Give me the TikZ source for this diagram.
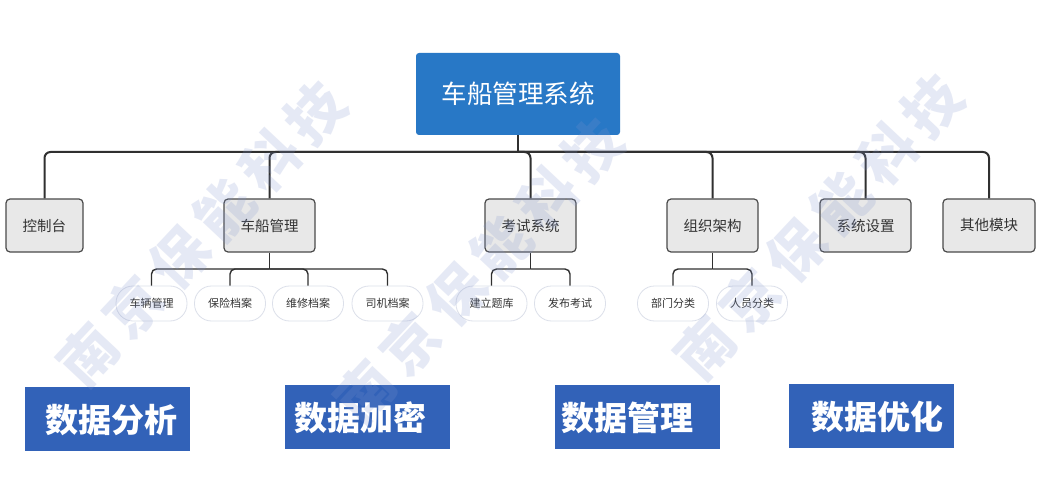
\documentclass[tikz,border=0pt]{standalone}
\usepackage{fontspec}
\newfontfamily\cjk{Noto Sans CJK SC}
\definecolor{rootblue}{HTML}{2878C6}
\definecolor{boxfill}{HTML}{E8E8E8}
\definecolor{boxedge}{HTML}{4A4A4A}
\definecolor{pilledge}{HTML}{DCE0EA}
\definecolor{txtgray}{HTML}{333333}
\definecolor{lineclr}{HTML}{303030}
\definecolor{botblue}{HTML}{3262B8}
\definecolor{wmclr}{HTML}{8094CE}
\begin{document}
\begin{tikzpicture}[x=1pt,y=-1pt,
  rootbox/.style={fill=rootblue, rounded corners=3pt, minimum width=204pt, minimum height=82pt, inner sep=0pt, text=white, font=\cjk\fontsize{25.5}{26}\selectfont},
  lvlbox/.style={draw=boxedge, fill=boxfill, line width=1.2pt, rounded corners=4pt, minimum width=91pt, minimum height=53pt, inner sep=0pt, text=txtgray, font=\cjk\fontsize{14.5}{15}\selectfont},
  pillbox/.style={draw=pilledge, fill=white, line width=0.8pt, rounded corners=17pt, minimum width=71pt, minimum height=35pt, inner sep=0pt, text=txtgray, font=\cjk\fontsize{11}{11}\selectfont},
  botbox/.style={fill=botblue, minimum width=165pt, minimum height=64pt, inner sep=0pt},
  bottxt/.style={text=white, inner sep=0pt, font=\cjk\bfseries\fontsize{33}{33}\selectfont},
  mainconn/.style={draw=lineclr, line width=2pt, rounded corners=6pt},
  subconn/.style={draw=lineclr, line width=1.4pt, rounded corners=5pt},
  wmtxt/.style={text=wmclr, text opacity=0.2, inner sep=0pt, rotate=46.8, font=\cjk\bfseries\fontsize{57}{57}\selectfont}
]
\useasboundingbox (0,0) rectangle (1045,500);
\fill[white] (0,0) rectangle (1045,500);

% connector anchors
\coordinate (bus) at (518,152);
\coordinate (sbA) at (269.5,269);
\coordinate (sbB) at (530.5,269);
\coordinate (sbC) at (712.5,269);

% nodes
\node[rootbox] (root) at (518,94) {车船管理系统};
\node[lvlbox, minimum width=77pt] (kzt) at (44.5,225.5) {控制台};
\node[lvlbox] (cbgl) at (269.5,225.5) {车船管理};
\node[lvlbox] (ksxt) at (530.5,225.5) {考试系统};
\node[lvlbox] (zzjg) at (712.5,225.5) {组织架构};
\node[lvlbox] (xtsz) at (865.5,225.5) {系统设置};
\node[lvlbox, minimum width=92pt] (qtmk) at (989,225.5) {其他模块};

\node[pillbox] (clgl) at (151.5,303.5) {车辆管理};
\node[pillbox] (bxda) at (230,303.5) {保险档案};
\node[pillbox] (wxda) at (308,303.5) {维修档案};
\node[pillbox] (sjda) at (387.5,303.5) {司机档案};
\node[pillbox] (jltk) at (491.5,303.5) {建立题库};
\node[pillbox] (fbks) at (570,303.5) {发布考试};
\node[pillbox] (bmfl) at (673,303.5) {部门分类};
\node[pillbox] (ryfl) at (752,303.5) {人员分类};

% connectors
\draw[mainconn] (root.south) -- (bus);
\foreach \c in {kzt,cbgl,ksxt,zzjg,xtsz,qtmk}{
  \draw[mainconn] (bus) -| (\c.north);
}
\draw[subconn] (cbgl.south) -- (sbA);
\foreach \c in {clgl,bxda,wxda,sjda}{ \draw[subconn] (sbA) -| (\c.north); }
\draw[subconn] (ksxt.south) -- (sbB);
\foreach \c in {jltk,fbks}{ \draw[subconn] (sbB) -| (\c.north); }
\draw[subconn] (zzjg.south) -- (sbC);
\foreach \c in {bmfl,ryfl}{ \draw[subconn] (sbC) -| (\c.north); }

% bottom boxes
\node[botbox] (b1) at (107.5,419) {};
\node[botbox] (b2) at (367.5,417) {};
\node[botbox] (b3) at (637,417) {};
\node[botbox] (b4) at (871.5,416) {};
\node[bottxt] (t1) at (111.5,420) {数据分析};
\node[bottxt] (t2) at (360,418) {数据加密};
\node[bottxt] (t3) at (627,418) {数据管理};
\node[bottxt] (t4) at (877,417) {数据优化};

% watermark
\foreach \sx/\sy [count=\j] in {88/355, 365/392, 705/348}{
  \foreach \ch [count=\i from 0] in {南,京,保,能,科,技}{
    \node[wmtxt] (wm\j\i) at ({\sx+\i*45.5},{\sy-\i*48.5}) {\ch};
  }
}
\end{tikzpicture}
\end{document}
